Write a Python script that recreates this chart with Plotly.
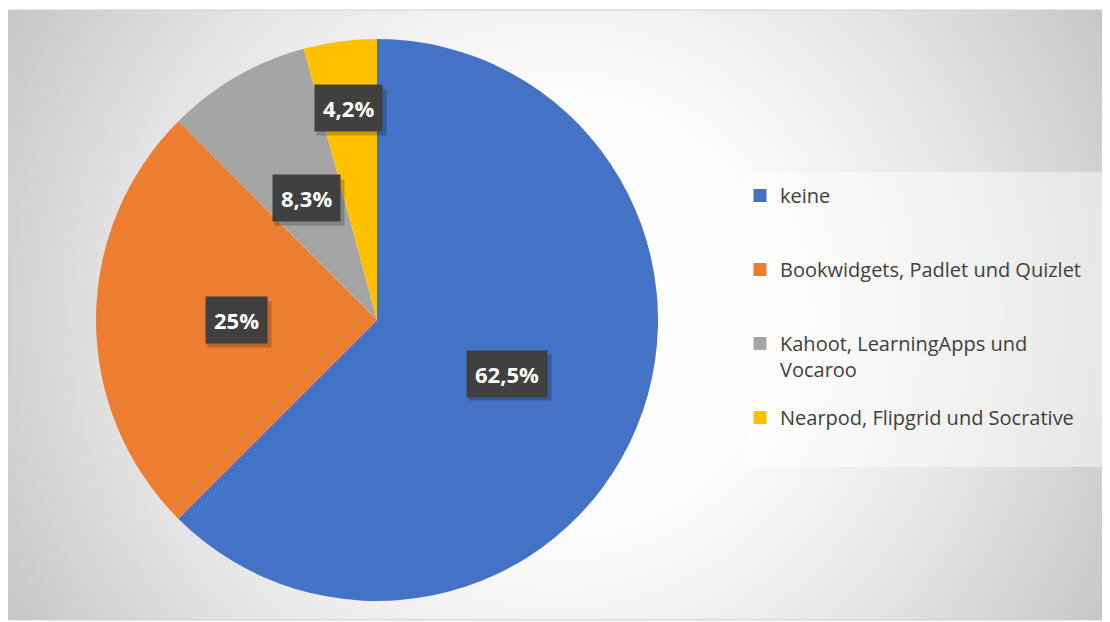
import math
import plotly.graph_objects as go

categories = ["keine", "Bookwidgets, Padlet und Quizlet",
              "Kahoot, LearningApps und<br>Vocaroo", "Nearpod, Flipgrid und Socrative"]
values = [62.5, 25.0, 8.3, 4.2]
value_labels = ["62,5%", "25%", "8,3%", "4,2%"]
colors = ["#4472C4", "#ED7D31", "#A5A5A5", "#FFC000"]
label_radius = [0.5, 0.5, 0.5, 0.76]

# page has an 8px body margin; reference pixel coords -> paper coords
W, H = 1102, 614
OFF = 8


def px(X):
    return (X - OFF) / W


def py(Y):
    return 1 - (Y - OFF) / H


frame = dict(x0=8, x1=1108, y0=10, y1=620)
pie_x = [px(96), px(658)]
pie_y = [py(601), py(39)]

fig = go.Figure()

# radial gradient background (circular in pixel space, centred in the frame)
fw = frame["x1"] - frame["x0"]
fh = frame["y1"] - frame["y0"]
S = 700.0
hx, hy = S / fw, S / fh
fig.add_trace(go.Scatter(
    x=[0.5 - hx, 0.5 + hx, 0.5 + hx, 0.5 - hx, 0.5 - hx],
    y=[0.5 - hy, 0.5 - hy, 0.5 + hy, 0.5 + hy, 0.5 - hy],
    mode="lines", line=dict(width=0), fill="toself",
    fillgradient=dict(type="radial",
                      colorscale=[[0, "#ffffff"], [0.3, "#fdfdfd"], [0.44, "#f3f3f3"],
                                  [0.62, "#e4e4e4"], [0.79, "#d2d2d2"], [0.9, "#c6c6c6"],
                                  [1, "#bcbcbc"]]),
    hoverinfo="skip", showlegend=False))

fig.add_trace(go.Pie(
    labels=categories, values=values, sort=False, direction="clockwise",
    marker=dict(colors=colors, line=dict(width=0)),
    textinfo="none", domain=dict(x=pie_x, y=pie_y), hoverinfo="label+value",
    showlegend=False))

# legend entries (one legend per entry for exact Excel-like spacing)
legend_rows = [195, 269, 343, 417]
legend_names = ["legend", "legend2", "legend3", "legend4"]
legends = {}
for name, c, lg, row in zip(categories, colors, legend_names, legend_rows):
    fig.add_trace(go.Scatter(x=[None], y=[None], mode="markers", name=name,
                             marker=dict(symbol="square", size=13, color=c),
                             legend=lg, showlegend=True))
    legends[lg] = dict(x=px(740), y=py(row - 19), xanchor="left", yanchor="top",
                       bgcolor="rgba(0,0,0,0)", valign="top", itemwidth=30,
                       font=dict(family="Open Sans", size=20, color="#404040"))

# approximate glyph widths (Open Sans Bold, 22px) for the label shadows
char_w = {",": 6.4, "%": 19.7}


def text_width(s):
    return sum(char_w.get(ch, 12.6) for ch in s)


# data labels
cx = (pie_x[0] + pie_x[1]) / 2 * W
cy = (1 - (pie_y[0] + pie_y[1]) / 2) * H
R = min((pie_x[1] - pie_x[0]) * W, (pie_y[1] - pie_y[0]) * H) / 2
total = sum(values)
cum = 0
for v, lab, rf in zip(values, value_labels, label_radius):
    mid = (cum + v / 2) / total * 2 * math.pi
    cum += v
    lx = cx + rf * R * math.sin(mid)
    ly = cy - rf * R * math.cos(mid)
    ax, ay = lx / W, 1 - ly / H
    # soft shadow box (no text)
    fig.add_annotation(x=ax, y=ay, xref="paper", yref="paper", text="&nbsp;",
                       showarrow=False, xanchor="center", yanchor="middle", borderpad=8,
                       xshift=3, yshift=-4, width=text_width(lab) + 2, height=29,
                       font=dict(family="Open Sans", size=22, color="rgba(0,0,0,0)"),
                       bgcolor="rgba(0,0,0,0.2)")
    fig.add_annotation(x=ax, y=ay, xref="paper", yref="paper", text="<b>" + lab + "</b>",
                       showarrow=False, xanchor="center", yanchor="middle", borderpad=8,
                       font=dict(family="Open Sans", size=22, color="#ffffff"),
                       bgcolor="#404040")

# legend box background
fig.add_shape(type="rect", xref="paper", yref="paper", layer="above",
              x0=px(746), x1=px(1106), y0=py(467), y1=py(172),
              fillcolor="rgba(255,255,255,0.45)", line=dict(width=0))
# chart frame
fig.add_shape(type="rect", xref="paper", yref="paper", layer="above",
              x0=px(frame["x0"]), x1=px(frame["x1"]),
              y0=py(frame["y1"]), y1=py(frame["y0"]), line=dict(color="#cfcfcf", width=1))

fig.update_layout(
    width=W, height=H, margin=dict(l=0, r=0, t=0, b=0, autoexpand=False),
    paper_bgcolor="#ffffff", plot_bgcolor="rgba(0,0,0,0)",
    xaxis=dict(domain=[px(frame["x0"]), px(frame["x1"])], range=[0, 1],
               visible=False, fixedrange=True),
    yaxis=dict(domain=[py(frame["y1"]), py(frame["y0"])], range=[0, 1],
               visible=False, fixedrange=True),
    font=dict(family="Open Sans"),
    **legends,
)

fig.write_html("out.html")
